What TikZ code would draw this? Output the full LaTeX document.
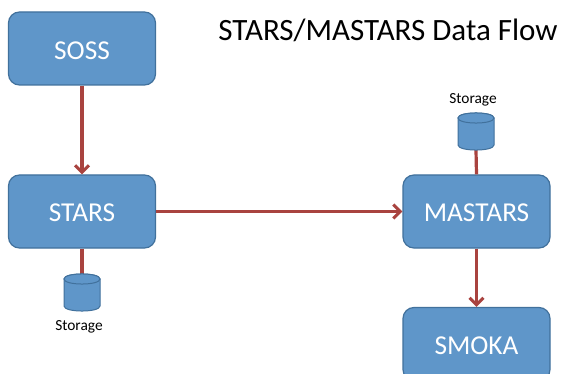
\documentclass[tikz,border=0pt]{standalone}
\usepackage{fontspec}
\setmainfont{Carlito}
\usetikzlibrary{arrows.meta}
\definecolor{boxfill}{HTML}{5F96C9}
\definecolor{boxline}{HTML}{41719C}
\definecolor{flow}{HTML}{A9433F}
\tikzset{
  flowbox/.style={draw=boxline,line width=1.2pt,fill=boxfill,rounded corners=11pt,minimum width=147pt,minimum height=73pt,text=white,font=\fontsize{27.3}{32}\selectfont,inner sep=0pt,text height=20pt,text depth=0pt},
  store/.style={minimum width=36pt,minimum height=37pt,inner sep=0pt},
  cylpart/.style={draw=boxline,line width=1pt,fill=boxfill},
  flowline/.style={draw=flow,line width=3.2pt},
  flowarrow/.style={flowline,-{Straight Barb[length=7pt,width=14pt,line width=3pt]}},
  caption/.style={font=\fontsize{15.4}{18}\selectfont,text=black,inner sep=0pt},
  pics/storecyl/.style={code={
    \path[cylpart] (-18,-13.5) -- (-18,13.5) .. controls (-18,20.2) and (18,20.2) .. (18,13.5) -- (18,-13.5) .. controls (18,-20.2) and (-18,-20.2) .. (-18,-13.5) -- cycle;
    \path[cylpart] (-18,-13.5) .. controls (-18,-6.8) and (18,-6.8) .. (18,-13.5) .. controls (18,-20.2) and (-18,-20.2) .. (-18,-13.5) -- cycle;
  }}
}
\begin{document}
\begin{tikzpicture}[x=1pt,y=-1pt]
\useasboundingbox (0,0) rectangle (562,374);
\clip (0,0) rectangle (562,374);
\fill[white] (0,0) rectangle (562,374);
\node[flowbox,text height=23pt] (soss) at (82,48.5) {SOSS};
\node[flowbox] (stars) at (82,211.5) {STARS};
\node[flowbox] (mastars) at (476.5,211.5) {MASTARS};
\node[flowbox,text height=21pt] (smoka) at (476.5,344) {SMOKA};
\node[store] (storeA) at (82,292.5) {};
\node[store] (storeB) at (476,131.5) {};
\node[caption] (capA) at (79,326.5) {Storage};
\node[caption] (capB) at (473,99.5) {Storage};
\node[font=\fontsize{31}{36}\selectfont,inner sep=0pt] (title) at (388,30) {STARS/MASTARS Data Flow};
\draw[flowarrow] (soss.south) -- (stars.north);
\draw[flowarrow] (stars.east) -- (mastars.west);
\draw[flowarrow] (mastars.south) -- (smoka.north);
\draw[flowline] (stars.south) -- (storeA.north);
\draw[flowline] (mastars.north) -- (storeB.south);
\pic at (storeA.center) {storecyl};
\pic at (storeB.center) {storecyl};
\end{tikzpicture}
\end{document}
